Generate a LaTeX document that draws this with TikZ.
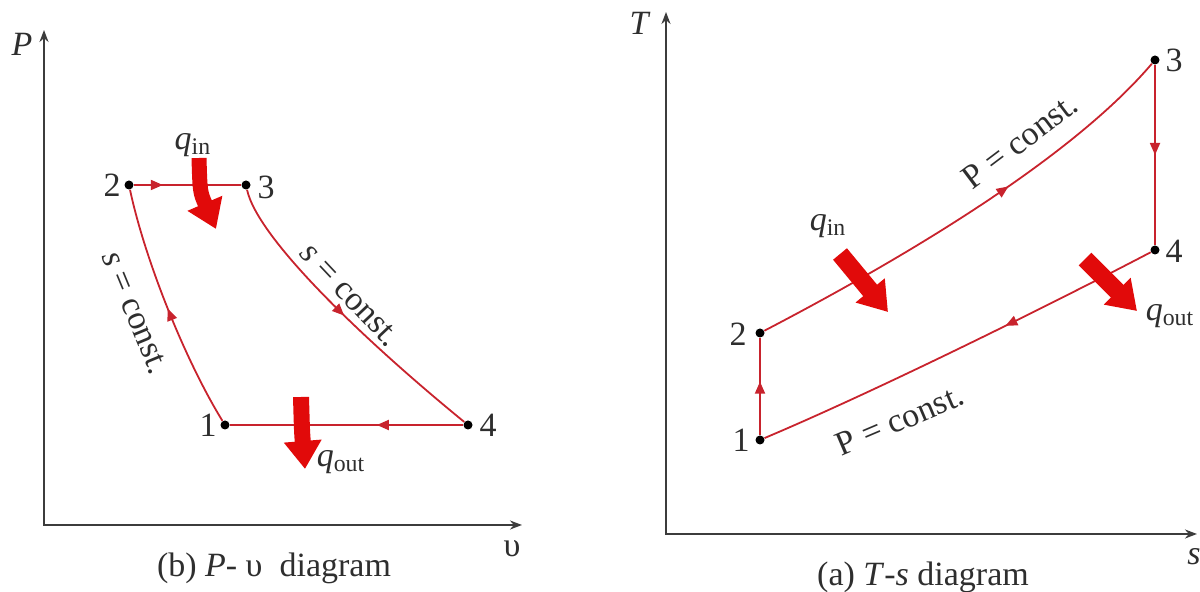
\documentclass[tikz,border=0pt]{standalone}
\usepackage{fontspec}
\setmainfont{Liberation Serif}
\usetikzlibrary{arrows.meta,decorations.markings}
\definecolor{cyc}{RGB}{200,35,45}
\definecolor{heatred}{RGB}{225,10,10}
\definecolor{axisgray}{RGB}{60,60,60}
\begin{document}
\begin{tikzpicture}[x=0.5pt,y=-0.5pt,
  every node/.style={font=\fontsize{17}{20}\selectfont, text=black!82},
  dot/.style={circle,fill=black,inner sep=0pt,minimum size=4.5pt},
  axis/.style={draw=axisgray,line width=1pt,{Stealth[length=6pt,width=4.5pt]}-{Stealth[length=6pt,width=4.5pt]}},
  cycline/.style={draw=cyc,line width=0.9pt},
  midarrow/.style={postaction={decorate},decoration={markings,mark=at position #1 with {\arrow[cyc]{Triangle[length=6pt,width=5pt]}}}},
  heat/.style={draw=heatred,line width=#1,-{Triangle[length=14pt,width=18pt]}},
  num/.style={inner sep=1pt}
]
\useasboundingbox (0,0) rectangle (1200,592);

% ---------- left: P-v diagram ----------
\coordinate (Ptip) at (44,30);
\coordinate (O1) at (44,525);
\coordinate (vtip) at (522,525);
\draw[axis] (Ptip) -- (O1) -- (vtip);
\node (Plab) at (22,44) {\textit{P}};
\node (vlab) at (512,549) {υ};
\node (capL) at (274,568) {(b) \textit{P}- υ\enspace diagram};

\node[dot] (L1) at (225,425) {};
\node[dot] (L2) at (129,185) {};
\node[dot] (L3) at (246,185) {};
\node[dot] (L4) at (468,425) {};
\node[num] (n1L) at (208,425) {1};
\node[num] (n2L) at (112,185) {2};
\node[num] (n3L) at (266,187) {3};
\node[num] (n4L) at (488,425) {4};

\draw[cycline,midarrow=0.27] (L2) -- (L3);
\draw[cycline,midarrow=0.5] (L3) .. controls (258,240) and (370,345) .. (L4);
\draw[cycline,midarrow=0.37] (L4) -- (L1);
\draw[cycline,midarrow=0.5] (L1) .. controls (185,360) and (145,260) .. (L2);

\coordinate (qinL0) at (199,158);
\coordinate (qinL1) at (216,229);
\draw[heat=7.5pt] (qinL0) .. controls (200,192) .. (qinL1);
\coordinate (qoutL0) at (301,397);
\coordinate (qoutL1) at (305,469);
\draw[heat=8pt] (qoutL0) .. controls (302,432) .. (qoutL1);
\node (qinLlab) at (193,145) {\textit{q}\textsubscript{in}};
\node (qoutLlab) at (341,462) {\textit{q}\textsubscript{out}};

\node[rotate=-67.6] (sL) at (135,313) {\textit{s} = const.};
\node[rotate=-46.7] (sR) at (350,295) {\textit{s} = const.};

% ---------- right: T-s diagram ----------
\coordinate (Ttip) at (666,12);
\coordinate (O2) at (666,534);
\coordinate (stip) at (1197,534);
\draw[axis] (Ttip) -- (O2) -- (stip);
\node (Tlab) at (640,23) {\textit{T}};
\node (slab) at (1194,557) {\textit{s}};
\node (capR) at (923,577) {(a) \textit{T}-\textit{s} diagram};

\node[dot] (R1) at (760,440) {};
\node[dot] (R2) at (760,333) {};
\node[dot] (R3) at (1155,60) {};
\node[dot] (R4) at (1155,250) {};
\node[num] (n1R) at (741,440) {1};
\node[num] (n2R) at (738,334) {2};
\node[num] (n3R) at (1174,60) {3};
\node[num] (n4R) at (1174,251) {4};

\draw[cycline,midarrow=0.55] (R1) -- (R2);
\draw[cycline,midarrow=0.6] (R2) .. controls (900,260) and (1070,160) .. (R3);
\draw[cycline,midarrow=0.5] (R3) -- (R4);
\draw[cycline,midarrow=0.38] (R4) .. controls (1075,292) and (890,385) .. (R1);

\coordinate (qinR0) at (840,254);
\coordinate (qinR1) at (888,312);
\draw[heat=9pt] (qinR0) -- (qinR1);
\coordinate (qoutR0) at (1085,259);
\coordinate (qoutR1) at (1137,311);
\draw[heat=9pt] (qoutR0) -- (qoutR1);
\node (qinRlab) at (828,226) {\textit{q}\textsubscript{in}};
\node (qoutRlab) at (1170,316) {\textit{q}\textsubscript{out}};

\node[rotate=37] (PcU) at (1020,141) {P = const.};
\node[rotate=23] (PcL) at (900,420) {P = const.};
\end{tikzpicture}
\end{document}
